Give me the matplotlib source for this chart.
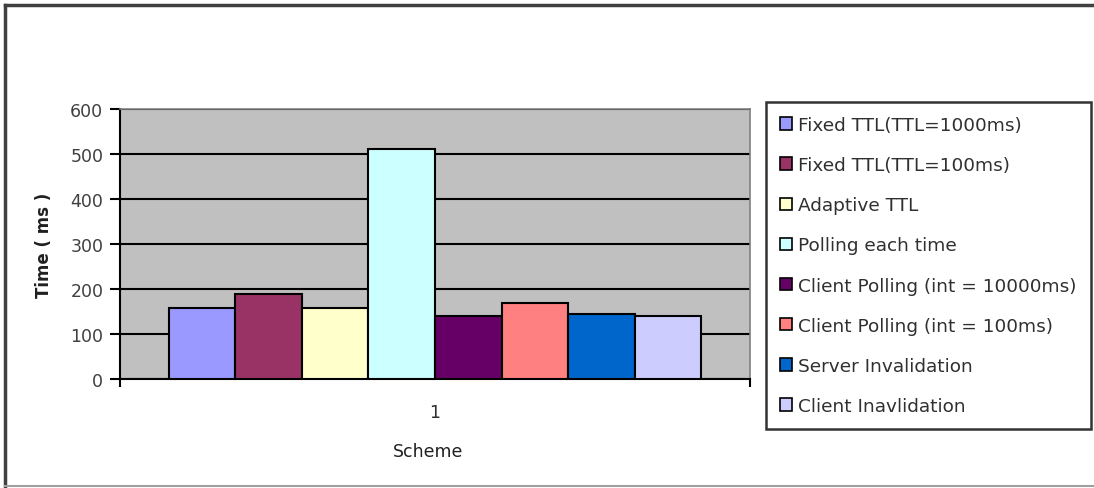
import matplotlib
matplotlib.use("Agg")
import matplotlib.pyplot as plt
from matplotlib.patches import Rectangle
from matplotlib.lines import Line2D

plt.rcParams["font.family"] = ["DejaVu Sans"]

schemes = [
    "Fixed TTL(TTL=1000ms)",
    "Fixed TTL(TTL=100ms)",
    "Adaptive TTL",
    "Polling each time",
    "Client Polling (int = 10000ms)",
    "Client Polling (int = 100ms)",
    "Server Invalidation",
    "Client Inavlidation",
]
times_ms = [158, 190, 157, 512, 140, 168, 145, 140]
colors = ["#9999FF", "#993366", "#FFFFCC", "#CCFFFF",
          "#660066", "#FF8080", "#0066CC", "#CCCCFF"]
category = "1"

W, H = 1094, 489
fig = plt.figure(figsize=(W / 100, H / 100), dpi=100)
fig.patch.set_facecolor("white")

# chart frame
fig.add_artist(Line2D([5 / W, 5 / W], [1 - 6 / H, 1 - 487 / H], color="#404040", lw=2.5,
                      transform=fig.transFigure))
fig.add_artist(Line2D([5 / W, 1], [1 - 6 / H, 1 - 6 / H], color="#404040", lw=2.5,
                      transform=fig.transFigure))
fig.add_artist(Line2D([5 / W, 1], [1 - 487 / H, 1 - 487 / H], color="#A0A0A0", lw=1.5,
                      transform=fig.transFigure))

left, right, top, bottom = 120, 750, 110, 380
ax = fig.add_axes([left / W, 1 - bottom / H, (right - left) / W, (bottom - top) / H])
ax.set_facecolor("#C0C0C0")

n = len(times_ms)
bw = 1.0
gap = 1.47
xs = [i - (n - 1) / 2 for i in range(n)]
ax.bar(xs, times_ms, width=bw, color=colors, edgecolor="black", linewidth=1.5, zorder=3)

ax.set_xlim(-n / 2 - gap / 2, n / 2 + gap / 2)
ax.set_ylim(0, 600)
ax.set_yticks(range(0, 601, 100))
ax.yaxis.grid(True, color="black", linewidth=1.5, zorder=1)
ax.set_axisbelow(True)

ax.set_xticks([0])
ax.set_xticklabels([category])
ax.set_xticks([-n / 2 - gap / 2, n / 2 + gap / 2], minor=True)
ax.tick_params(axis="x", which="major", length=0, pad=17, labelsize=12.5, labelcolor="#303030")
ax.tick_params(axis="x", which="minor", length=6, width=1.5, direction="out")
ax.tick_params(axis="y", length=7, width=1.5, direction="out", labelsize=12.5,
               labelcolor="#404040", pad=5)

for s in ["left", "bottom"]:
    ax.spines[s].set_color("black")
    ax.spines[s].set_linewidth(1.5)
for s in ["top", "right"]:
    ax.spines[s].set_color("#808080")
    ax.spines[s].set_linewidth(1.2)

ax.set_ylabel("Time ( ms )", fontsize=12, fontweight="bold", color="#202020")
ax.yaxis.set_label_coords((53 - left) / (right - left), 0.5)
ax.set_xlabel("Scheme", fontsize=12.5, color="#202020")
ax.xaxis.set_label_coords((428 - left) / (right - left), -(443 - bottom) / (bottom - top))

handles = [Rectangle((0, 0), 1, 1, facecolor=c, edgecolor="black", linewidth=1.2) for c in colors]
leg = fig.legend(handles, schemes, loc="upper left",
                 bbox_to_anchor=(766 / W, 1 - 103 / H), bbox_transform=fig.transFigure,
                 fontsize=13.3, frameon=True, fancybox=False, shadow=False,
                 handlelength=0.65, handleheight=0.65, handletextpad=0.35,
                 labelspacing=1.2, borderpad=0.75, borderaxespad=0)
leg.get_frame().set_edgecolor("black")
leg.get_frame().set_linewidth(1.8)
for t in leg.get_texts():
    t.set_color("#303030")

fig.savefig("out.png", dpi=100, facecolor="white")
